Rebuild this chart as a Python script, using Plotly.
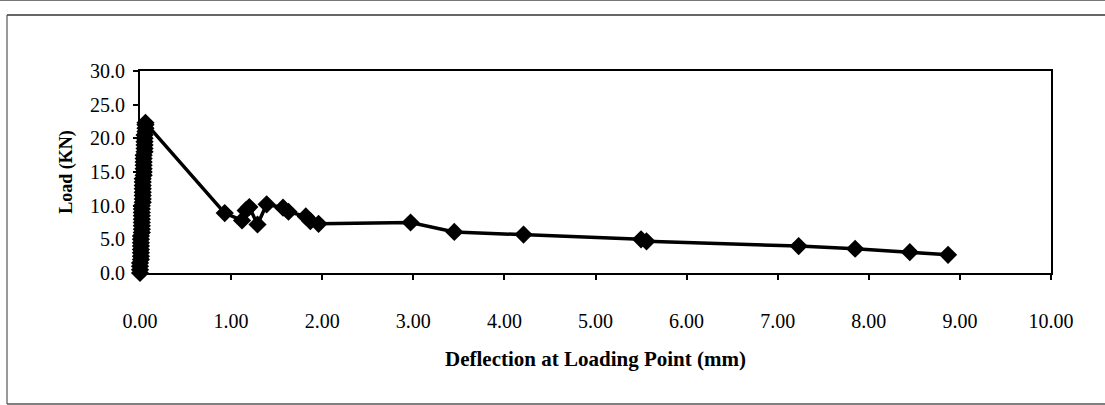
import plotly.graph_objects as go

# Deflection at loading point (mm) and load (kN)
deflection = [0.00, 0.00, 0.00, 0.00, 0.01, 0.01, 0.01, 0.01, 0.01, 0.01,
              0.01, 0.01, 0.02, 0.02, 0.02, 0.02, 0.02, 0.02, 0.02, 0.02,
              0.02, 0.03, 0.03, 0.03, 0.03, 0.03, 0.03, 0.03, 0.03, 0.04,
              0.04, 0.04, 0.04, 0.04, 0.04, 0.04, 0.05, 0.05, 0.05, 0.05,
              0.05, 0.05, 0.06, 0.06, 0.06, 0.06,
              0.93, 1.12, 1.16, 1.20, 1.29, 1.39, 1.57, 1.63, 1.82, 1.87, 1.96,
              2.97, 3.45, 4.21, 5.50, 5.56, 7.23, 7.85, 8.45, 8.87]
load = [0.0, 0.5, 1.0, 1.5, 2.0, 2.5, 3.0, 3.5, 4.0, 4.5,
        5.0, 5.5, 6.0, 6.5, 7.0, 7.5, 8.0, 8.5, 9.0, 9.5,
        10.0, 10.5, 11.0, 11.5, 12.0, 12.5, 13.0, 13.5, 14.0, 14.5,
        15.0, 15.5, 16.0, 16.5, 17.0, 17.5, 18.0, 18.5, 19.0, 19.5,
        20.0, 20.5, 21.0, 21.5, 22.0, 22.3,
        8.9, 7.8, 9.3, 9.8, 7.2, 10.2, 9.7, 9.1, 8.4, 7.7, 7.3,
        7.5, 6.1, 5.7, 5.0, 4.7, 4.0, 3.6, 3.1, 2.7]

x_ticks = [0, 1, 2, 3, 4, 5, 6, 7, 8, 9, 10]
x_tick_labels = ["0.00", "1.00", "2.00", "3.00", "4.00", "5.00", "6.00", "7.00", "8.00", "9.00", "10.00"]
y_ticks = [0, 5, 10, 15, 20, 25, 30]
y_tick_labels = ["0.0", "5.0", "10.0", "15.0", "20.0", "25.0", "30.0"]

FONT = "Liberation Serif, Times New Roman, serif"

fig = go.Figure()
fig.add_trace(go.Scatter(
    x=deflection, y=load, mode="lines+markers",
    line=dict(color="black", width=3.5),
    marker=dict(symbol="diamond", size=14, color="black"),
    showlegend=False, cliponaxis=False,
))

W, H = 1105, 405
L, R, T, B = 140, 1051, 71, 273
pw, ph = R - L, B - T

def px(x):
    return (x - L) / pw

def py(y):
    return (B - y) / ph

shapes = [
    # outer frame
    dict(type="line", xref="paper", yref="paper", x0=px(7), x1=px(1110), y0=py(15), y1=py(15),
         line=dict(color="#333333", width=1.5)),
    dict(type="line", xref="paper", yref="paper", x0=px(7), x1=px(7), y0=py(15), y1=py(404),
         line=dict(color="#555555", width=1.2)),
    dict(type="line", xref="paper", yref="paper", x0=px(7), x1=px(1110), y0=py(404), y1=py(404),
         line=dict(color="#555555", width=1.5)),
    dict(type="line", xref="paper", yref="paper", x0=px(0), x1=px(1105), y0=py(0.5), y1=py(0.5),
         line=dict(color="#777777", width=1)),
]

fig.update_layout(
    width=W, height=H,
    margin=dict(l=L, r=W - R, t=T, b=H - B, pad=0),
    paper_bgcolor="white", plot_bgcolor="white",
    font=dict(family=FONT, color="black", size=20),
    shapes=shapes,
    xaxis=dict(
        range=[0, 10], tickvals=x_ticks, ticktext=x_tick_labels,
        showgrid=False, zeroline=False, showline=True, linecolor="black", linewidth=2,
        mirror=True, ticks="outside", ticklen=5, tickcolor="black", tickwidth=1.5,
        ticklabelstandoff=24,
        tickfont=dict(family=FONT, size=20),
        title=dict(text="<b>Deflection at Loading Point (mm)</b>", font=dict(family=FONT, size=21), standoff=20),
    ),
    yaxis=dict(
        range=[0, 30], tickvals=y_ticks, ticktext=y_tick_labels,
        showgrid=False, zeroline=False, showline=True, linecolor="black", linewidth=2,
        mirror=True, ticks="outside", ticklen=5, tickcolor="black", tickwidth=1.5,
        ticklabelstandoff=4,
        tickfont=dict(family=FONT, size=20),
        title=dict(text="<b>Load (KN)</b>", font=dict(family=FONT, size=18), standoff=13),
    ),
)

fig.write_html("out.html")
